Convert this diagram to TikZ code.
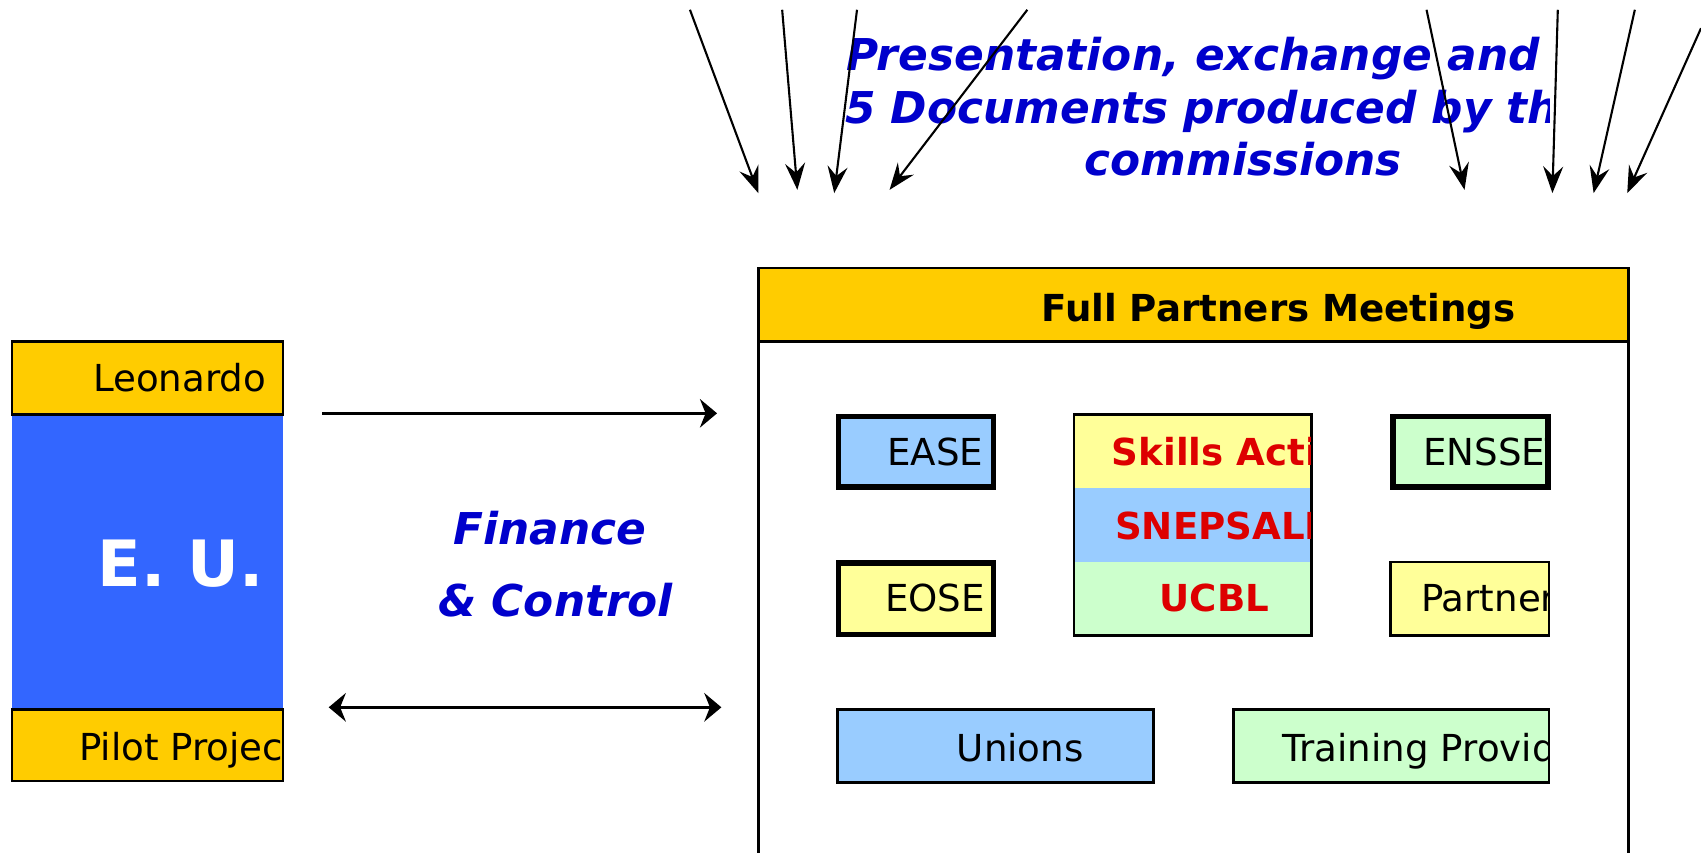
\documentclass[tikz,border=0pt]{standalone}
\usepackage{fontspec}
\setmainfont{DejaVu Sans}
\usetikzlibrary{arrows.meta,fit}
\definecolor{gold}{HTML}{FFCC00}
\definecolor{eublue}{HTML}{3366FF}
\definecolor{lblue}{HTML}{99CCFF}
\definecolor{lyellow}{HTML}{FFFF99}
\definecolor{lgreen}{HTML}{CCFFCC}
\definecolor{navy}{HTML}{0000CC}
\definecolor{scarlet}{HTML}{DD0000}

\begin{document}
\begin{tikzpicture}[x=0.2mm, y=-0.2mm,
  every node/.style = {inner sep=0pt, outer sep=0pt},
  panel/.style = {draw, line width=1.4pt},
  heavy/.style = {draw, line width=2.8pt},
  plain/.style = {font=\fontsize{19.5}{23}\selectfont, anchor=base west},
  redtxt/.style = {font=\fontsize{19.5}{23}\selectfont\bfseries, text=scarlet, anchor=base west},
  bluetxt/.style = {font=\fontsize{23}{28}\selectfont\bfseries\itshape, text=navy},
  link/.style = {line width=1.3pt, -{Stealth[length=9pt,width=15pt,inset=3pt]}},
  twoway/.style = {line width=1.3pt, {Stealth[length=9pt,width=15pt,inset=3pt]}-{Stealth[length=9pt,width=15pt,inset=3pt]}},
  feed/.style = {line width=1.1pt, -{Stealth[length=14pt,width=10.5pt,inset=5pt]}}]

\useasboundingbox (0,0) rectangle (1568,786);

% E.U. side
\node[fill=eublue, fit={(11,382) (261,654)}] (eu) {};
\node[panel, fill=gold, fit={(11,315) (261,382)}] (leo) {};
\node[panel, fill=gold, fit={(11,654) (261,720)}] (pilot) {};
\node[plain] (leotxt) at (86,361) {Leonardo};
\begin{scope}
  \clip (pilot.north west) rectangle ([xshift=-0.7pt]pilot.south east);
  \node[plain] (pilottxt) at (73,701) {Pilot Project};
\end{scope}
\node[font=\fontsize{33.5}{40}\selectfont\bfseries, text=white, anchor=base west] (eutxt) at (90,541) {E. U.};

% finance and control
\coordinate (fa) at (297,381);
\coordinate (fb) at (661,381);
\coordinate (ca) at (303,652);
\coordinate (cb) at (665,652);
\draw[link] (fa) -- (fb);
\draw[twoway] (ca) -- (cb);
\node[bluetxt, anchor=base west] (fin) at (418,502) {Finance};
\node[bluetxt, anchor=base west] (ctrl) at (404,568) {\& Control};

% full partners meetings
\node[panel, fill=gold, fit={(699,247) (1501,315)}] (fpm) {};
\draw[line width=1.4pt] (fpm.south west) -- (699,800);
\draw[line width=1.4pt] (fpm.south east) -- (1501,800);
\node[plain, font=\fontsize{19.5}{23}\selectfont\bfseries] (fpmtxt) at (960,296) {Full Partners Meetings};

\node[heavy, fill=lblue, fit={(773,384) (916,449)}] (ease) {};
\node[plain] (easetxt) at (818,429) {EASE};
\node[heavy, fill=lyellow, fit={(773,519) (916,585)}] (eose) {};
\node[plain] (eosetxt) at (816,564) {EOSE};

\node[fill=lyellow, fit={(990,382) (1209,450)}] (skills) {};
\node[fill=lblue, fit={(990,450) (1209,518)}] (snep) {};
\node[fill=lgreen, fit={(990,518) (1209,586)}] (ucbl) {};
\node[panel, fit=(skills)(ucbl)] (stack) {};
\begin{scope}
  \clip (stack.north west) rectangle ([xshift=-0.7pt]stack.south east);
  \node[redtxt] (skillstxt) at (1025,429) {Skills Action};
  \node[redtxt] (sneptxt) at (1028,497) {SNEPSALI};
  \node[redtxt] (ucbltxt) at (1069,564) {UCBL};
\end{scope}

\node[heavy, fill=lgreen, fit={(1284,384) (1427,449)}] (ensse) {};
\node[panel, fill=lyellow, fit={(1282,518) (1428,586)}] (partner) {};
\node[panel, fill=lblue, fit={(772,654) (1063,721)}] (unions) {};
\node[panel, fill=lgreen, fit={(1137,654) (1428,721)}] (training) {};
\node[plain] (unionstxt) at (882,702) {Unions};
\begin{scope}
  \clip (ensse.north west) rectangle ([xshift=-1.4pt]ensse.south east);
  \node[plain] (ensstxt) at (1312,429) {ENSSET};
\end{scope}
\begin{scope}
  \clip (partner.north west) rectangle ([xshift=-0.7pt]partner.south east);
  \node[plain] (partnertxt) at (1310,564) {Partners};
\end{scope}
\begin{scope}
  \clip (training.north west) rectangle ([xshift=-0.7pt]training.south east);
  \node[plain] (trainingtxt) at (1182,702) {Training Providers};
\end{scope}

% presentation of the documents
\begin{scope}
  \clip (760,15) rectangle (1428,130);
  \node[bluetxt, anchor=base west] (pres) at (780,65) {Presentation, exchange and};
  \node[bluetxt, anchor=base west] (docs) at (779,114) {5 Documents produced by the};
\end{scope}
\node[bluetxt, anchor=base] (comm) at (1146,162) {commissions};

\foreach \sx/\sy/\ex/\ey [count=\i] in {636/9/699/178, 721/9/735/175, 790/9/769/178,
    947/9/820/175, 1315/9/1350/175, 1436/9/1431/178, 1507/9/1469/178, 1568/26/1500/178}
{
  \coordinate (s\i) at (\sx,\sy);
  \coordinate (e\i) at (\ex,\ey);
  \draw[feed] (s\i) -- (e\i);
}
\end{tikzpicture}
\end{document}
